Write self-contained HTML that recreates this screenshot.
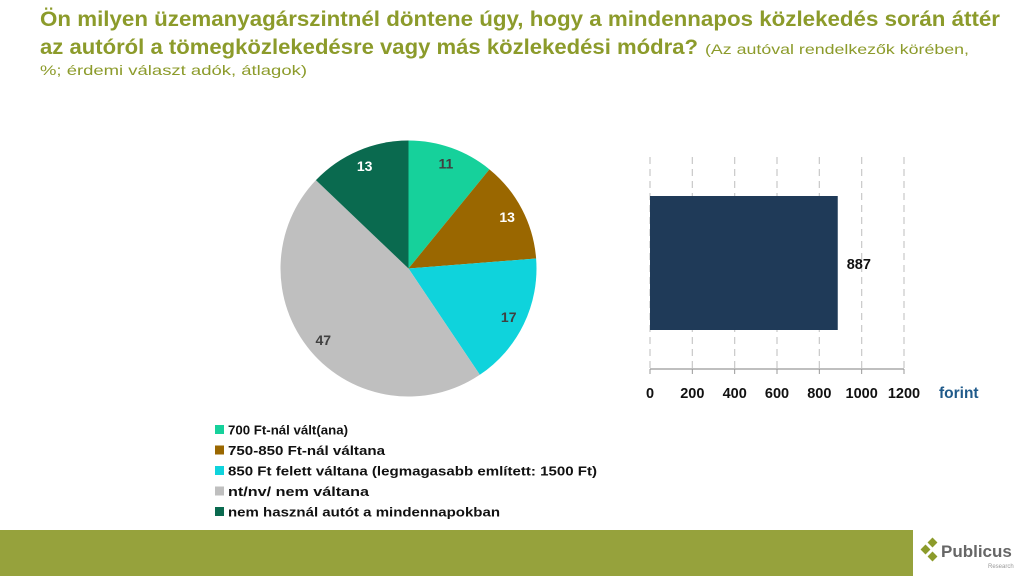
<!DOCTYPE html>
<html><head><meta charset="utf-8"><style>
html,body{margin:0;padding:0;background:#fff;width:1024px;height:576px;overflow:hidden}
svg{display:block;font-family:"Liberation Sans",sans-serif}
</style></head><body>
<svg id="s" width="1024" height="576" viewBox="0 0 1024 576">
<g fill="#8c9b2b" font-weight="bold">
<text x="40" y="26" font-size="21" textLength="960" lengthAdjust="spacingAndGlyphs">Ön milyen üzemanyagárszintnél döntene úgy, hogy a mindennapos közlekedés során áttér</text>
<text x="40" y="54" font-size="21" textLength="658" lengthAdjust="spacingAndGlyphs">az autóról a tömegközlekedésre vagy más közlekedési módra?</text>
<text x="705" y="54" font-size="14" font-weight="normal" textLength="264" lengthAdjust="spacingAndGlyphs">(Az autóval rendelkezők körében,</text>
<text x="40" y="75" font-size="14" font-weight="normal" textLength="267" lengthAdjust="spacingAndGlyphs">%; érdemi választ adók, átlagok)</text>
</g>
<g id="pie"></g>
<g id="legend"></g>
<g id="bar"></g>
<rect x="0" y="530" width="913" height="46" fill="#96a23c"/>
<g>
<rect x="922" y="546" width="7" height="7" fill="#8c9b2b" transform="rotate(45 925.5 549.5)"/>
<rect x="929" y="539" width="7" height="7" fill="#8c9b2b" transform="rotate(45 932.5 542.5)"/>
<rect x="929" y="553" width="7" height="7" fill="#8c9b2b" transform="rotate(45 932.5 556.5)"/>
<text x="941" y="557" font-size="17" font-weight="bold" fill="#666">Publicus</text>
<text x="988" y="568" font-size="6" fill="#999">Research</text>
</g>
</svg>
<script>
const pieLabels=["700 Ft-nál vált(ana)","750-850 Ft-nál váltana","850 Ft felett váltana (legmagasabb említett: 1500 Ft)","nt/nv/ nem váltana","nem használ autót a mindennapokban"];
const pieValues=[11,13,17,47,13];
const pieColors=["#16d19b","#9a6700","#0fd3dc","#bfbfbf","#0a6a4f"];
const labelColors=["#404040","#fff","#404040","#404040","#fff"];
const barValues=[887];
const barTicks=[0,200,400,600,800,1000,1200];
const NS="http://www.w3.org/2000/svg";
function mk(t,a,p){const e=document.createElementNS(NS,t);for(const k in a)e.setAttribute(k,a[k]);p.appendChild(e);return e;}
const pie=document.getElementById('pie');
const cx=408.5,cy=268.5,r=128;
const tot=pieValues.reduce((a,b)=>a+b,0);
let a0=0;
pieValues.forEach((v,i)=>{
 const a1=a0+v/tot*2*Math.PI;
 const p=(a)=>[cx+r*Math.sin(a),cy-r*Math.cos(a)];
 const [x0,y0]=p(a0),[x1,y1]=p(a1);
 const s=mk('path',{d:`M${cx},${cy}L${x0},${y0}A${r},${r} 0 ${a1-a0>Math.PI?1:0} 1 ${x1},${y1}Z`,fill:pieColors[i]},pie);
 
 
 const am=(a0+a1)/2, lr=r*0.87;
 const t=mk('text',{x:cx+lr*Math.sin(am),y:cy-lr*Math.cos(am)+5,'text-anchor':'middle','font-size':14,'font-weight':'bold',fill:labelColors[i]},pie);
 t.textContent=v;
 
 
 a0=a1;
});
const lg=document.getElementById('legend');
pieLabels.forEach((l,i)=>{
 const y=430+i*20.5;
 const sq=mk('rect',{x:215,y:y-5,width:9,height:9,fill:pieColors[i]},lg);
 
 
 const t=mk('text',{x:228,y:y+4.5,'font-size':13,'font-weight':'bold',fill:'#111'},lg);
 t.textContent=l;
 
 
 const w=[120,157,369,141,272][i];
 t.setAttribute('textLength',w);t.setAttribute('lengthAdjust','spacingAndGlyphs');
});
const bar=document.getElementById('bar');
const X=v=>650+v/1200*254;
barTicks.forEach(v=>{
 const g=mk('line',{x1:X(v),x2:X(v),y1:157,y2:369,stroke:'#c8c8c8','stroke-width':1.2,'stroke-dasharray':'7,5'},bar);
 
 
 const tk=mk('line',{x1:X(v),x2:X(v),y1:369,y2:374,stroke:'#999'},bar);
 
 
 const t=mk('text',{x:X(v),y:398,'text-anchor':'middle','font-size':14.5,'font-weight':'bold',fill:'#111'},bar);
 t.textContent=v;
 
 
});
const ax=mk('line',{x1:650,x2:904,y1:369,y2:369,stroke:'#999','stroke-width':1.2},bar);


barValues.forEach(v=>{
 const b=mk('rect',{x:650,y:196,width:X(v)-650,height:134,fill:'#1f3a58'},bar);
 
 
 const t=mk('text',{x:X(v)+9,y:269,'font-size':14.5,'font-weight':'bold',fill:'#111'},bar);
 t.textContent=v;
 
 
});
const u=mk('text',{x:939,y:398,'font-size':15.5,'font-weight':'bold',fill:'#1f5a8a'},bar);
u.textContent='forint';


</script>
</body></html>
